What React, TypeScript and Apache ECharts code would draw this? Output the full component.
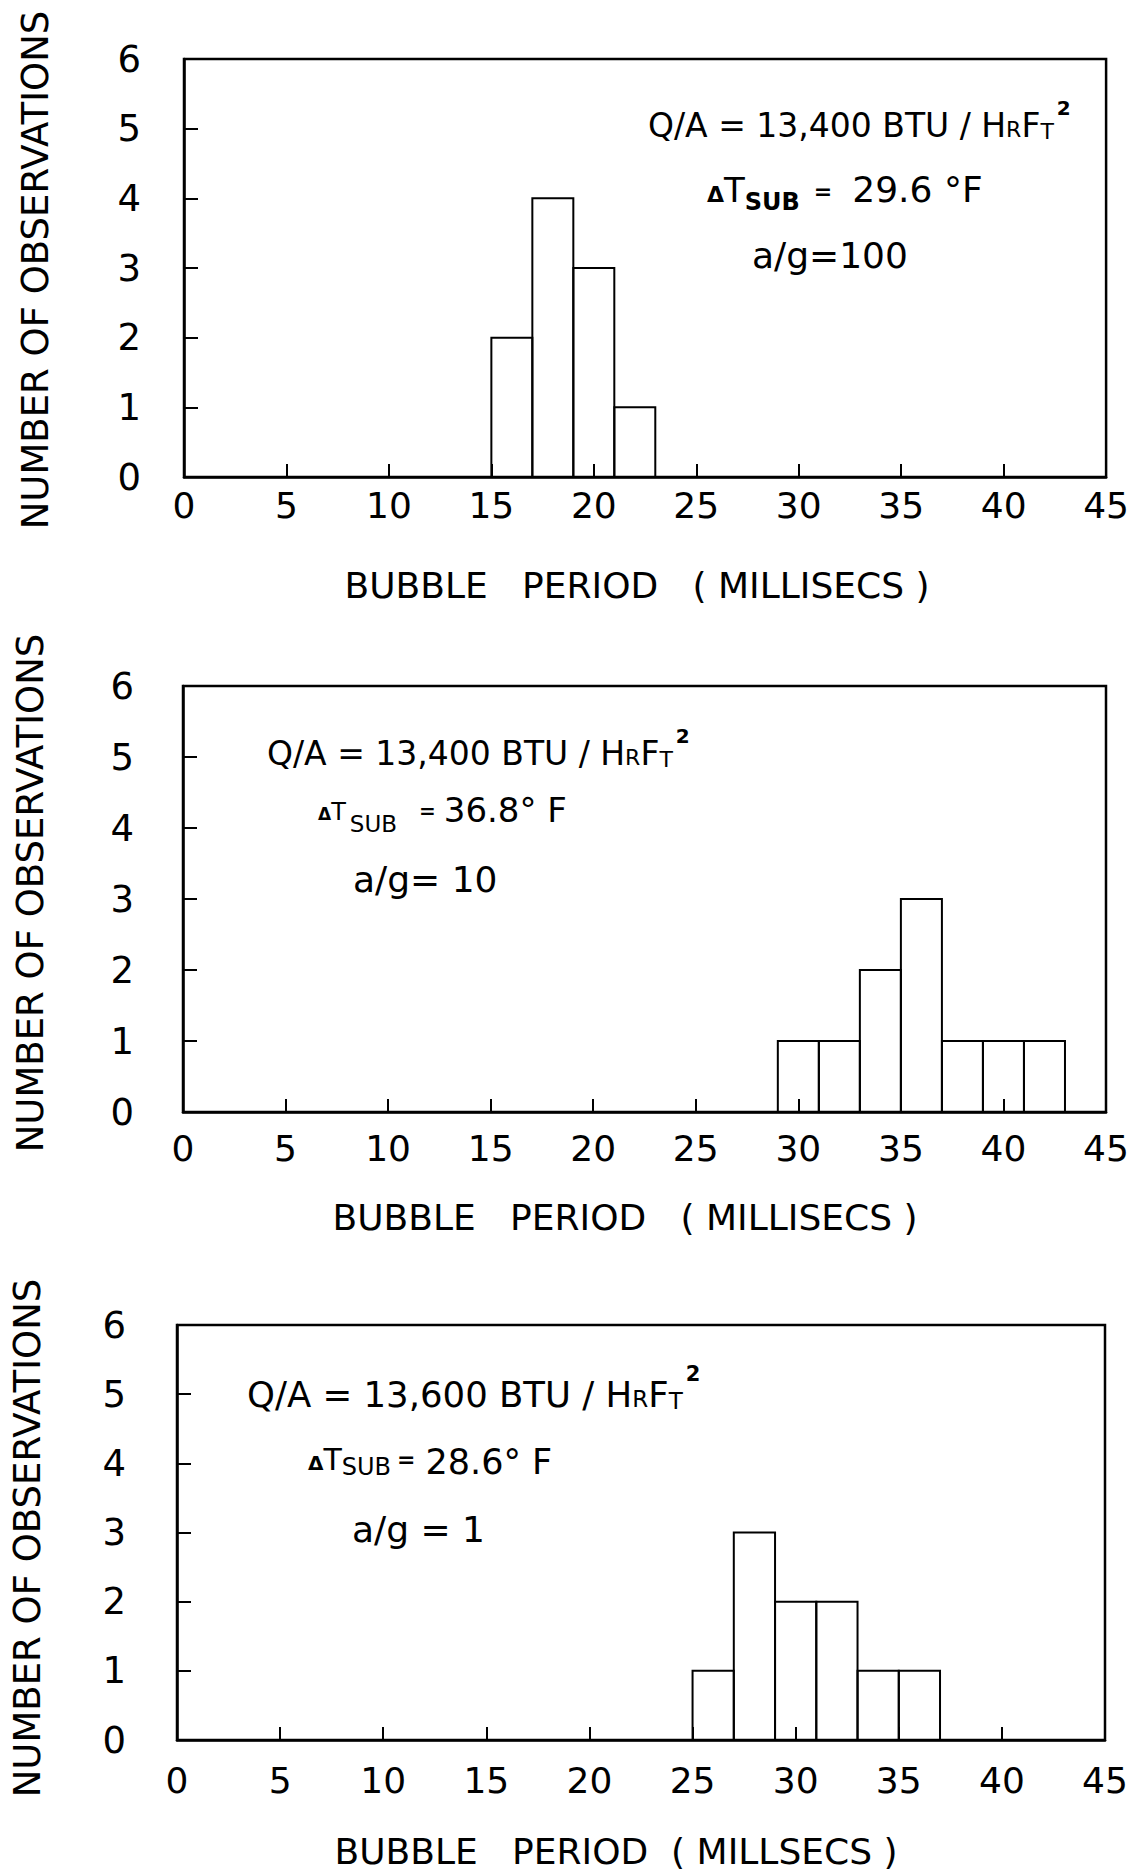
import React, { useEffect, useRef } from "react";
import * as echarts from "echarts";

// ---------- data ----------
const xMin = 0;
const xMax = 45;
const xInterval = 5;
const yMin = 0;
const yMax = 6;
const yInterval = 1;
const binWidth = 2;

const p1BinStart = [15, 17, 19, 21];
const p1Counts = [2, 4, 3, 1];

const p2BinStart = [29, 31, 33, 35, 37, 39, 41];
const p2Counts = [1, 1, 2, 3, 1, 1, 1];

const p3BinStart = [25, 27, 29, 31, 33, 35];
const p3Counts = [1, 3, 2, 2, 1, 1];

const yTitle = "NUMBER OF OBSERVATIONS";
const xTitles = [
  "BUBBLE   PERIOD   ( MILLISECS )",
  "BUBBLE   PERIOD   ( MILLISECS )",
  "BUBBLE   PERIOD  ( MILLSECS )",
];
const fluxValues = ["13,400", "13,400", "13,600"];
const subcoolValues = ["29.6 °F", "36.8° F", "28.6° F"];
const accelValues = ["a/g=100", "a/g= 10", "a/g = 1"];

// ---------- helpers ----------
const FONT = "DejaVu Sans";
const measureCtx =
  typeof document !== "undefined"
    ? (document.createElement("canvas").getContext("2d") as CanvasRenderingContext2D)
    : null;
function measure(text: string, size: number, weight: string) {
  if (!measureCtx) return text.length * size * 0.6;
  measureCtx.font = `${weight} ${size}px "${FONT}"`;
  return measureCtx.measureText(text).width;
}

type Seg = { t: string; s: number; w?: string; dy?: number; gap?: number };
function textLine(x: number, base: number, segs: Seg[]) {
  const out: any[] = [];
  let cx = x;
  for (const g of segs) {
    cx += g.gap || 0;
    const weight = g.w || "normal";
    out.push({
      type: "text",
      x: cx,
      y: base + (g.dy || 0) - 0.346 * g.s,
      silent: true,
      style: {
        text: g.t,
        fontFamily: FONT,
        fontSize: g.s,
        fontWeight: weight,
        fill: "#000",
        align: "left",
        verticalAlign: "middle",
      },
    });
    cx += measure(g.t, g.s, weight);
  }
  return out;
}

function centered(x: number, y: number, text: string, size: number, rotation = 0) {
  return {
    type: "text",
    x,
    y,
    rotation,
    silent: true,
    style: {
      text,
      fontFamily: FONT,
      fontSize: size,
      fill: "#000",
      align: "center",
      verticalAlign: "middle",
    },
  };
}

const grids = [
  { left: 184, right: 24, top: 59, height: 418 },
  { left: 183, right: 26, top: 686, height: 426 },
  { left: 177, right: 27, top: 1325, height: 415 },
];
const xLabelMargins = [10, 18, 22];
const yLabelMargins = [43, 49, 51];

const App: React.FC = () => {
  const ref = useRef<HTMLDivElement>(null);

  useEffect(() => {
    if (!ref.current) return;
    const chart = echarts.init(ref.current, undefined, { renderer: "svg" });

    const bins = [
      [p1BinStart, p1Counts],
      [p2BinStart, p2Counts],
      [p3BinStart, p3Counts],
    ];

    const xAxis = grids.map((_, i) => ({
      gridIndex: i,
      type: "value",
      min: xMin,
      max: xMax,
      interval: xInterval,
      axisLine: { show: true, lineStyle: { color: "#000", width: 2.5 } },
      axisTick: { show: true, inside: true, length: 13, lineStyle: { color: "#000", width: 2 } },
      axisLabel: {
        margin: xLabelMargins[i],
        fontSize: 36,
        fontFamily: FONT,
        color: "#000",
        showMinLabel: true,
        showMaxLabel: true,
      },
      splitLine: { show: false },
    }));

    const yAxis = grids.map((_, i) => ({
      gridIndex: i,
      type: "value",
      min: yMin,
      max: yMax,
      interval: yInterval,
      axisLine: { show: true, lineStyle: { color: "#000", width: 2.5 } },
      axisTick: { show: true, inside: true, length: 14, lineStyle: { color: "#000", width: 2 } },
      axisLabel: {
        margin: yLabelMargins[i],
        fontSize: 37,
        fontFamily: FONT,
        color: "#000",
      },
      splitLine: { show: false },
    }));

    const series = bins.map(([starts, counts], i) => ({
      type: "custom",
      xAxisIndex: i,
      yAxisIndex: i,
      silent: true,
      data: (starts as number[]).map((s, k) => [s, s + binWidth, (counts as number[])[k]]),
      encode: { x: [0, 1], y: 2 },
      renderItem: (params: any, api: any) => {
        const a = api.coord([api.value(0), api.value(2)]);
        const b = api.coord([api.value(1), 0]);
        return {
          type: "rect",
          shape: { x: a[0], y: a[1], width: b[0] - a[0], height: b[1] - a[1] },
          style: { fill: "none", stroke: "#000", lineWidth: 2 },
        };
      },
    }));

    const graphic: any[] = [];
    // y titles
    graphic.push(centered(35, 270, yTitle, 37, Math.PI / 2));
    graphic.push(centered(30, 893, yTitle, 37, Math.PI / 2));
    graphic.push(centered(27, 1538, yTitle, 37, Math.PI / 2));
    // x titles
    graphic.push(centered(637, 598 - 0.346 * 36, xTitles[0], 36));
    graphic.push(centered(625, 1230 - 0.346 * 36, xTitles[1], 36));
    graphic.push(centered(616, 1864 - 0.346 * 36, xTitles[2], 36));

    // panel 1 annotation
    graphic.push(
      ...textLine(648, 137, [
        { t: `Q/A = ${fluxValues[0]} BTU / H`, s: 33 },
        { t: "R", s: 22 },
        { t: "F", s: 33 },
        { t: "T", s: 22, dy: 2 },
        { t: "2", s: 20, w: "bold", dy: -22, gap: 3 },
      ])
    );
    graphic.push(
      ...textLine(707, 202, [
        { t: "Δ", s: 22, w: "bold" },
        { t: "T", s: 34 },
        { t: "SUB", s: 24, w: "bold", dy: 8 },
        { t: "=", s: 22, w: "bold", gap: 14, dy: -3 },
        { t: subcoolValues[0], s: 36, gap: 20 },
      ])
    );
    graphic.push(...textLine(752, 268, [{ t: accelValues[0], s: 36 }]));

    // panel 2 annotation
    graphic.push(
      ...textLine(267, 765, [
        { t: `Q/A = ${fluxValues[1]} BTU / H`, s: 33 },
        { t: "R", s: 22 },
        { t: "F", s: 33 },
        { t: "T", s: 22, dy: 2 },
        { t: "2", s: 20, w: "bold", dy: -22, gap: 3 },
      ])
    );
    graphic.push(
      ...textLine(318, 820, [
        { t: "Δ", s: 17, w: "bold" },
        { t: "T", s: 24 },
        { t: "SUB", s: 23, dy: 12, gap: 4 },
        { t: "=", s: 20, w: "bold", gap: 22, dy: -2 },
        { t: subcoolValues[1], s: 34, gap: 8, dy: 2 },
      ])
    );
    graphic.push(...textLine(353, 892, [{ t: accelValues[1], s: 36 }]));

    // panel 3 annotation
    graphic.push(
      ...textLine(247, 1407, [
        { t: `Q/A = ${fluxValues[2]} BTU / H`, s: 35.5 },
        { t: "R", s: 23 },
        { t: "F", s: 35.5 },
        { t: "T", s: 23, dy: 2 },
        { t: "2", s: 21, w: "bold", dy: -26, gap: 3 },
      ])
    );
    graphic.push(
      ...textLine(308, 1470, [
        { t: "Δ", s: 20, w: "bold" },
        { t: "T", s: 30 },
        { t: "SUB", s: 24, dy: 5 },
        { t: "=", s: 22, w: "bold", gap: 6, dy: -3 },
        { t: subcoolValues[2], s: 35, gap: 10, dy: 4 },
      ])
    );
    graphic.push(...textLine(352, 1542, [{ t: accelValues[2], s: 36 }]));

    chart.setOption({
      animation: false,
      backgroundColor: "#fff",
      grid: grids.map((g) => ({
        ...g,
        show: true,
        borderColor: "#000",
        borderWidth: 2.5,
        backgroundColor: "transparent",
        containLabel: false,
      })),
      xAxis,
      yAxis,
      series,
      graphic,
    } as any);

    return () => chart.dispose();
  }, []);

  return (
    <div
      ref={ref}
      style={{ position: "absolute", left: 0, top: 0, width: 1132, height: 1872, background: "#fff" }}
    />
  );
};

export default App;
